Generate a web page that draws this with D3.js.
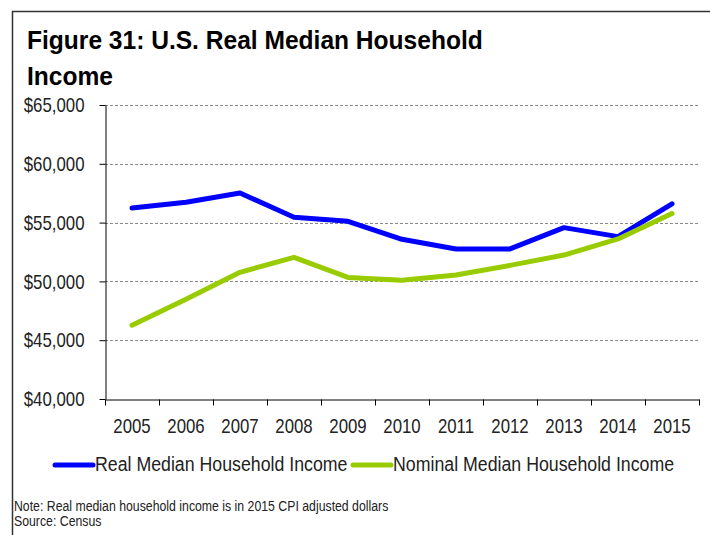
<!DOCTYPE html>
<html>
<head>
<meta charset="utf-8">
<script src="https://cdn.jsdelivr.net/npm/d3@7"></script>
<style>
  body { margin: 0; background: #fff; }
  svg { display: block; }
  text { font-family: "Liberation Sans", Arial, sans-serif; fill: #222; }
</style>
</head>
<body>
<svg id="chart" width="710" height="535"></svg>
<script>
// data
const years = ["2005", "2006", "2007", "2008", "2009", "2010", "2011", "2012", "2013", "2014", "2015"];
const realIncome = [56250, 56730, 57520, 55450, 55110, 53580, 52760, 52760, 54570, 53810, 56590];
const nominalIncome = [46280, 48490, 50770, 52050, 50340, 50090, 50540, 51360, 52240, 53610, 55770];
const yTicks = [40000, 45000, 50000, 55000, 60000, 65000];
const seriesNames = ["Real Median Household Income", "Nominal Median Household Income"];
const seriesColors = ["#0000ff", "#99cc00"];

/**
 * Squeeze text horizontally to fake a condensed face
 */
function narrow(sel, f) {
  sel.each(function() {
    let w = this.getComputedTextLength();
    d3.select(this)
      .attr("textLength", w * f)
      .attr("lengthAdjust", "spacingAndGlyphs");
  });
}

/**
 * Left-anchored text squeezed with a transform
 */
function squeezedText(parent, px, py, size, f, str) {
  return parent.append("text")
    .attr("transform", "translate(" + px + "," + py + ") scale(" + f + ",1)")
    .attr("font-size", size)
    .text(str);
}

const svg = d3.select("#chart");

// frame (only left/top edges visible)
svg.append("path")
  .attr("d", "M12.5,535 L12.5,11.5 L710,11.5")
  .attr("fill", "none")
  .attr("stroke", "#333")
  .attr("stroke-width", 1.5);

// title
squeezedText(svg, 27, 49, 26, 0.945, "Figure 31: U.S. Real Median Household")
  .attr("font-weight", "bold").style("fill", "#000");
squeezedText(svg, 27, 85, 26, 0.945, "Income")
  .attr("font-weight", "bold").style("fill", "#000");

// scales
let x = d3.scaleBand().domain(years).range([105, 699]);
let y = d3.scaleLinear().domain([40000, 65000]).range([399, 105]);

// gridlines
svg.append("g")
  .selectAll("line")
  .data(yTicks.filter(d => d > 40000))
  .join("line")
  .attr("x1", 105)
  .attr("x2", 699)
  .attr("y1", d => Math.round(y(d)) + 0.5)
  .attr("y2", d => Math.round(y(d)) + 0.5)
  .attr("stroke", "#8a8a8a")
  .attr("stroke-dasharray", "3,2");

// y axis
let yAxis = d3.axisLeft(y)
  .tickValues(yTicks)
  .tickFormat(d3.format("$,"))
  .tickSize(6)
  .tickSizeOuter(0)
  .tickPadding(15);
let gy = svg.append("g")
  .attr("transform", "translate(105.5,0)")
  .call(yAxis);
gy.selectAll("text").attr("font-size", 21).style("font-family", null).attr("fill", "#222");
gy.selectAll("line, path").attr("stroke", "#000");
narrow(gy.selectAll("text"), 0.8);

// x axis: labels centred in bands, ticks on band edges
let xAxis = d3.axisBottom(x).tickSize(0).tickSizeOuter(0);
let gx = svg.append("g")
  .attr("transform", "translate(0,399.5)")
  .call(xAxis);
gx.selectAll("text")
  .attr("font-size", 21)
  .style("font-family", null)
  .attr("fill", "#222")
  .attr("y", 33.5)
  .attr("dy", 0);
gx.select("path").attr("stroke", "#000");
narrow(gx.selectAll("text"), 0.8);
gx.selectAll(".edge")
  .data(years.map(d => x(d)).concat([x.range()[1]]))
  .join("line")
  .attr("class", "edge")
  .attr("x1", d => Math.round(d) + 0.5)
  .attr("x2", d => Math.round(d) + 0.5)
  .attr("y1", 0)
  .attr("y2", 6)
  .attr("stroke", "#000");

// lines
let line = d3.line()
  .x((d, i) => x(years[i]) + x.bandwidth() / 2)
  .y(d => y(d));

[realIncome, nominalIncome].forEach((vals, k) => {
  svg.append("path")
    .attr("d", line(vals))
    .attr("fill", "none")
    .attr("stroke", seriesColors[k])
    .attr("stroke-width", 5)
    .attr("stroke-linejoin", "round")
    .attr("stroke-linecap", "round");
});

// legend
let legendX = [55, 353];
seriesNames.forEach((name, k) => {
  let g = svg.append("g").attr("transform", "translate(" + legendX[k] + ",465)");
  g.append("line")
    .attr("x1", 0).attr("x2", 38)
    .attr("stroke", seriesColors[k])
    .attr("stroke-width", 5)
    .attr("stroke-linecap", "round");
  squeezedText(g, 40, 6, 21, 0.845, name);
});

// notes
squeezedText(svg, 14, 511, 15, 0.82,
  "Note: Real median household income is in 2015 CPI adjusted dollars");
squeezedText(svg, 14, 526, 15, 0.82, "Source: Census");
</script>
</body>
</html>
